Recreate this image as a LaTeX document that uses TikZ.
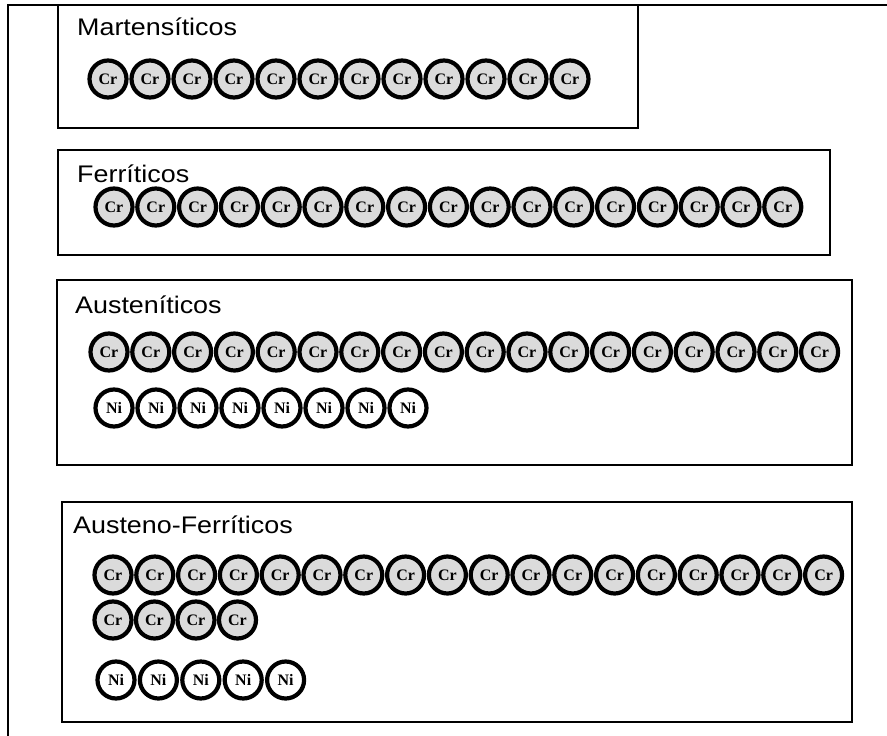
\documentclass[tikz,border=0pt]{standalone}
\usepackage{fontspec}
\setmainfont{Liberation Serif}
\setsansfont{Liberation Sans}
\tikzset{
  famtitle/.style={anchor=base west, inner sep=0pt, font=\sffamily\fontsize{24}{24}\selectfont},
  groupbox/.style={draw, line width=2.8pt},
  cratom/.style={circle, draw, line width=4.2pt, fill=gray!28, minimum size=37pt, inner sep=0pt, font=\bfseries\fontsize{16}{16}\selectfont},
  niatom/.style={cratom, fill=white}
}
\begin{document}
\begin{tikzpicture}[x=1pt,y=-1pt]
\useasboundingbox (0,0) rectangle (887,736);
\draw[line width=2.2pt] (8,736) -- (8,5) -- (887,5);
\draw[groupbox] (58,5) rectangle (638,128);
\draw[groupbox] (58,150) rectangle (830,255);
\draw[groupbox] (57,280) rectangle (852,465);
\draw[groupbox] (62,502) rectangle (852,722);
\node[famtitle] (tm) at (77,35) {\scalebox{1.12}[1]{Martensíticos}};
\node[famtitle] (tf) at (77,182) {\scalebox{1.12}[1]{Ferríticos}};
\node[famtitle] (ta) at (75,313) {\scalebox{1.12}[1]{Austeníticos}};
\node[famtitle] (taf) at (73,533) {\scalebox{1.12}[1]{Austeno-Ferríticos}};
\foreach \i in {0,...,11}
  \node[cratom] (mcr\i) at (108+42*\i,79) {Cr};
\foreach \i in {0,...,16}
  \node[cratom] (fcr\i) at (114+41.8*\i,207) {Cr};
\foreach \i in {0,...,17}
  \node[cratom] (acr\i) at (109+41.8*\i,352) {Cr};
\foreach \i in {0,...,7}
  \node[niatom] (ani\i) at (114+42*\i,408) {Ni};
\foreach \i in {0,...,17}
  \node[cratom] (afcr\i) at (113+41.8*\i,575) {Cr};
\foreach \i in {0,...,3}
  \node[cratom] (afcrb\i) at (113+41.5*\i,620) {Cr};
\foreach \i in {0,...,4}
  \node[niatom] (afni\i) at (116+42.4*\i,680) {Ni};
\end{tikzpicture}
\end{document}
